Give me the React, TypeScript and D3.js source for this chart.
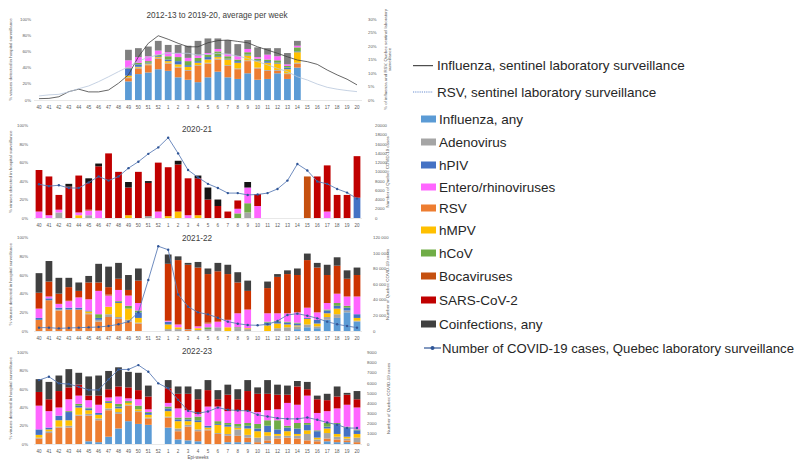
import React from "react";
import * as d3 from "d3";

// ---------- categories & ticks ----------
const weeks = ["40","41","42","43","44","45","46","47","48","49","50","51","52","1","2","3","4","5","6","7","8","9","10","11","12","13","14","15","16","17","18","19","20"];
const stackKeys = ["flu","rsv","adeno","hmpv","hpiv","hcov","entero","boca","sars","coinf"];
const leftTicks = [0, 20, 40, 60, 80, 100];

// ---------- Panel 1: 2012-13 to 2019-20 average ----------
const p1Flu    = [0,0,0,0,0,0,0,0,0,23,32,34,38, 36,28,25,22,28,35,28,26,33,25, 26,33,26,40,0,0,0,0,0,0];
const p1Rsv    = [0,0,0,0,0,0,0,0,0,4,7,9,13, 9,12,11,20,17,15,14,12,15,14, 10,3,6,5,0,0,0,0,0,0];
const p1Adeno  = [0,0,0,0,0,0,0,0,0,1,1,1,1, 1,1,1,1,1,1,1,1,1,1, 1,1,1,1,0,0,0,0,0,0];
const p1Hmpv   = [0,0,0,0,0,0,0,0,0,2,1,1,1, 2,3,4,3,4,2,7,7,6,8, 9,8,5,13,0,0,0,0,0,0];
const p1Hpiv   = [0,0,0,0,0,0,0,0,0,9,3,1,1, 2,4,2,2,3,1,1,2,1,1, 2,1,2,1,0,0,0,0,0,0];
const p1Hcov   = [0,0,0,0,0,0,0,0,0,1,2,2,2, 4,5,5,4,3,6,3,2,3,2, 2,3,2,5,0,0,0,0,0,0];
const p1Entero = [0,0,0,0,0,0,0,0,0,9,7,6,5, 5,5,4,3,2,3,3,4,4,2, 6,5,2,2,0,0,0,0,0,0];
const p1Coinf  = [0,0,0,0,0,0,0,0,0,13,11,12,12, 9,10,15,18,18,13,17,15,11,12, 8,10,14,6,0,0,0,0,0,0];
const p1FluSentinel = [0.5,0.6,1.2,3.1,4.0,3.0,3.0,3.7,6.2,9.3,16.0,21.0,23.8, 22.5,21.0,19.7,19.7,21.2,22.0,22.2,21.7,21.2,19.7, 18.5,17.3,16.0,14.8,14.2,13.2,11.1,9.3,7.7,5.6];
const p1RsvSentinel = [1.5,1.9,2.1,3.0,4.2,5.2,6.8,8.6,10.5,12.3,14.4,15.8,16.7, 17.3,17.3,17.3,16.7,16.9,17.3,16.9,16.3,15.4,14.2, 13.0,11.7,10.5,8.6,7.4,5.9,4.7,4.0,3.5,3.1];
const p1RightTicks = [0, 5, 10, 15, 20, 25, 30];

// ---------- Panel 2: 2020-21 ----------
const p2Adeno  = [0,0,6,0,0,3,0,0,0,0,0,2,0, 0,0,0,0,0,0,0,0,6,0, 0,0,0,0,0,0,0,0,0,0];
const p2Hmpv   = [0,0,0,0,3,0,0,0,0,3,0,0,0, 2,7,0,3,0,0,0,0,0,0, 0,0,0,0,0,0,0,0,0,0];
const p2Hpiv   = [0,0,0,0,0,0,0,0,0,0,0,0,0, 0,0,0,0,0,0,0,0,0,0, 0,0,0,0,0,0,0,0,0,22];
const p2Hcov   = [0,0,0,0,0,0,0,0,0,0,0,0,0, 0,0,0,0,0,0,0,5,10,0, 0,0,0,0,0,0,0,0,0,0];
const p2Entero = [7,3,3,0,3,5,8,0,0,0,0,0,7, 0,0,3,0,0,0,0,5,17,13, 0,0,0,0,0,0,7,0,0,0];
const p2Boca   = [0,0,0,0,0,1,0,0,0,0,0,0,0, 0,0,0,0,0,0,0,0,0,0, 0,0,0,0,45,0,0,0,0,0];
const p2Sars   = [45,42,16,34,40,29,48,70,50,30,50,36,53, 53,51,40,40,20,13,7,9,0,13, 0,0,0,0,0,45,50,25,25,45];
const p2Coinf  = [0,0,0,3,0,5,3,0,0,6,0,2,0, 0,4,0,3,13,7,0,0,6,0, 0,0,0,0,0,0,0,0,0,0];
const p2Covid  = [7300,6900,7100,6500,6500,7700,9000,8100,9000,10800,12200,13900,15300, 17400,14000,10400,8800,7400,6500,5400,5400,5000,5100, 5400,6300,8100,11700,10300,7900,7400,6300,5500,4200];
const p2RightTicks = [0,2000,4000,6000,8000,10000,12000,14000,16000,18000,20000];

// ---------- Panel 3: 2021-22 ----------
const p3Flu    = [0,0,0,0,0,0,0,0,0,0,0,0,0, 0,0,0,0,0,0,0,0,0,0, 0,0,0,2,4,3,12,14,20,10];
const p3Rsv    = [12,33,22,23,23,18,10,15,13,10,8,0,0, 0,0,1,0,0,0,0,0,0,0, 0,0,0,0,0,0,0,0,0,0];
const p3Adeno  = [0,0,1,0,0,1,2,3,2,2,1,0,0, 2,2,1,1,2,4,0,3,2,0, 0,3,4,3,3,2,3,4,2,1];
const p3Hmpv   = [0,0,0,0,0,2,0,8,15,12,5,0,0, 5,2,0,2,0,0,4,0,1,0, 6,5,3,1,6,3,4,6,0,3];
const p3Hpiv   = [2,2,2,2,2,1,2,0,1,0,6,0,0, 3,0,0,0,0,0,0,0,0,0, 3,2,2,2,1,4,3,3,3,4];
const p3Hcov   = [0,0,0,0,0,0,4,0,1,3,2,0,0, 0,0,0,0,2,0,0,1,0,0, 1,1,1,1,0,0,1,3,2,0];
const p3Entero = [10,2,4,7,11,12,25,12,12,11,8,0,0, 1,3,0,2,4,6,8,15,20,0, 9,8,9,11,11,8,7,10,10,19];
const p3Boca   = [0,0,1,1,0,0,0,1,0,0,0,0,0, 0,0,0,0,1,0,0,0,0,0, 0,0,0,0,0,0,0,0,0,0];
const p3Sars   = [17,16,10,14,7,18,9,8,12,6,24,0,0, 61,69,69,63,52,54,49,33,20,0, 27,39,42,40,51,48,30,30,19,23];
const p3Coinf  = [21,22,17,10,9,7,20,22,17,16,13,0,0, 10,4,2,6,6,9,10,11,11,0, 7,3,4,7,7,5,11,9,9,8];
const p3Covid  = [4300,4300,3400,3900,4300,4700,5100,6400,8600,12000,24000,65600,109000, 104500,47000,31300,24000,21400,17100,12000,9400,7700,7300, 8600,12900,20600,22300,19700,16300,12000,8600,6400,4300];
const p3RightTicks = [0,20000,40000,60000,80000,100000,120000];

// ---------- Panel 4: 2022-23 ----------
const p4Flu    = [0,0,0,0,0,3,2,8,17,25,22,21,0, 18,5,4,3,0,0,2,2,2,0, 1,0,0,0,0,0,3,2,2,0];
const p4Rsv    = [6,12,18,18,31,28,24,29,16,17,13,7,0, 11,9,15,11,15,11,7,7,5,2, 3,6,7,6,4,3,3,3,2,2];
const p4Adeno  = [1,2,1,2,1,2,2,2,2,1,1,1,0, 1,3,2,2,1,1,2,7,3,5, 5,3,2,3,7,2,6,3,2,5];
const p4Hmpv   = [3,2,7,6,8,4,4,6,4,2,2,3,0, 6,8,4,8,2,9,8,2,7,7, 4,2,5,2,4,2,5,3,2,4];
const p4Hpiv   = [6,2,5,9,2,2,2,1,2,0,0,2,0, 3,2,2,2,2,1,2,1,3,3, 7,5,4,6,6,7,2,11,10,4];
const p4Hcov   = [0,0,0,1,2,1,0,1,3,2,4,1,0, 2,2,2,4,0,3,2,3,3,5, 6,10,2,6,2,1,4,1,1,1];
const p4Entero = [26,18,9,13,9,8,9,4,8,3,7,3,0, 4,10,8,3,21,16,13,14,13,13, 11,12,25,20,30,19,13,16,24,24];
const p4Sars   = [15,13,18,13,12,5,10,9,11,12,10,14,0, 16,16,18,16,18,8,18,13,22,20, 18,16,9,20,7,15,12,13,11,9];
const p4Coinf  = [14,19,17,20,13,21,22,20,21,17,19,12,0, 9,8,8,11,11,10,11,11,12,7, 15,11,10,6,8,4,7,11,2,9];
const p4Covid  = [6300,6630,5980,5900,5650,5330,5330,6370,7350,7350,7780,7120,5980, 5490,4350,3270,3040,3200,3590,3370,3300,3270,2880, 2710,2550,2480,2480,2610,2390,2120,1900,1570,1570];
const p4RightTicks = [0,1000,2000,3000,4000,5000,6000,7000,8000,9000];

// ---------- legend ----------
const legendLines = ["Influenza, sentinel laboratory surveillance", "RSV, sentinel laboratory surveillance"];
const legendBars = [
  { key: "flu", label: "Influenza, any" },
  { key: "adeno", label: "Adenovirus" },
  { key: "hpiv", label: "hPIV" },
  { key: "entero", label: "Entero/rhinoviruses" },
  { key: "rsv", label: "RSV" },
  { key: "hmpv", label: "hMPV" },
  { key: "hcov", label: "hCoV" },
  { key: "boca", label: "Bocaviruses" },
  { key: "sars", label: "SARS-CoV-2" },
  { key: "coinf", label: "Coinfections, any" },
];
const legendCovid = "Number of COVID-19 cases, Quebec laboratory surveillance";

const baseColors: Record<string, string> = {
  flu: "#5B9BD5", rsv: "#ED7D31", adeno: "#A5A5A5", hmpv: "#FFC000", hpiv: "#4472C4",
  hcov: "#70AD47", entero: "#FF66FF", boca: "#C5500F", sars: "#C00000", coinf: "#404040",
};

const FONT = "'Liberation Sans', Arial, sans-serif";

type SeriesMap = Record<string, number[]>;
interface LineDef { values: number[]; color: string; width: number; markers?: boolean; }
interface PanelCfg {
  title: string; titleX: number; titleY: number;
  yTop: number; yBottom: number;
  leftLabelX: number; rightLabelX: number; rightTitleX: number; rightTitle: string[];
  rightTicks: number[]; rightFmt: (v: number) => string;
  bars: SeriesMap; colorOverride?: Record<string, string>;
  lines: LineDef[]; xTitle?: string;
}

const x = d3.scaleBand<string>().domain(weeks).range([34.03, 361.97]).paddingInner(0.32).paddingOuter(0.16);

function Panel({ cfg }: { cfg: PanelCfg }) {
  const y = d3.scaleLinear().domain([0, 100]).range([cfg.yBottom, cfg.yTop]);
  const rMax = cfg.rightTicks[cfg.rightTicks.length - 1];
  const yR = d3.scaleLinear().domain([0, rMax]).range([cfg.yBottom, cfg.yTop]);
  const rows = weeks.map((w, i) => {
    const r: Record<string, number | string> = { week: w };
    stackKeys.forEach((k) => { r[k] = cfg.bars[k] ? cfg.bars[k][i] : 0; });
    return r;
  });
  const stacked = d3.stack<Record<string, number | string>>().keys(stackKeys)(rows as any);
  const colors = { ...baseColors, ...(cfg.colorOverride || {}) };
  const bw = x.bandwidth();
  const cx = (w: string) => (x(w) as number) + bw / 2;
  const lineGen = d3.line<number>().x((_, i) => cx(weeks[i])).y((v) => yR(v));
  const midY = (cfg.yTop + cfg.yBottom) / 2;
  return (
    <g>
      <text x={cfg.titleX} y={cfg.titleY} textAnchor="middle" fontSize={8.2} fill="#404040" fontFamily={FONT}>{cfg.title}</text>
      <line x1={34} x2={362} y1={cfg.yBottom + 0.5} y2={cfg.yBottom + 0.5} stroke="#D9D9D9" strokeWidth={0.6} />
      {leftTicks.map((t) => (
        <text key={"l" + t} x={cfg.leftLabelX} y={y(t)} dy="0.35em" textAnchor="end" fontSize={4.3} fill="#595959" fontFamily={FONT}>{t}%</text>
      ))}
      {cfg.rightTicks.map((t) => (
        <text key={"r" + t} x={cfg.rightLabelX} y={yR(t)} dy="0.35em" textAnchor="start" fontSize={4.3} fill="#595959" fontFamily={FONT}>{cfg.rightFmt(t)}</text>
      ))}
      {weeks.map((w) => (
        <text key={"w" + w} x={cx(w)} y={cfg.yBottom + 7} dy="0.35em" textAnchor="middle" fontSize={4.5} fill="#595959" fontFamily={FONT}>{w}</text>
      ))}
      <text transform={`translate(12,${midY}) rotate(-90)`} textAnchor="middle" fontSize={4.4} fill="#595959" fontFamily={FONT}>% viruses detected in hospital surveillance</text>
      {cfg.rightTitle.map((t, i) => (
        <text key={"rt" + i} transform={`translate(${cfg.rightTitleX + i * 4.8},${midY}) rotate(-90)`} textAnchor="middle" fontSize={4.4} fill="#595959" fontFamily={FONT}>{t}</text>
      ))}
      {cfg.xTitle && (
        <text x={198} y={cfg.yBottom + 13} dy="0.35em" textAnchor="middle" fontSize={4.6} fill="#595959" fontFamily={FONT}>{cfg.xTitle}</text>
      )}
      {stacked.map((s) => (
        <g key={s.key} fill={colors[s.key]}>
          {s.map((d, i) => {
            const h = y(d[0]) - y(d[1]);
            if (h <= 0) return null;
            return <rect key={i} x={x(weeks[i])} y={y(d[1])} width={bw} height={h} />;
          })}
        </g>
      ))}
      {cfg.lines.map((l, li) => (
        <g key={"ln" + li}>
          <path d={lineGen(l.values) || ""} fill="none" stroke={l.color} strokeWidth={l.width} />
          {l.markers && l.values.map((v, i) => (
            <circle key={i} cx={cx(weeks[i])} cy={yR(v)} r={1.2} fill="#2F5597" />
          ))}
        </g>
      ))}
    </g>
  );
}

const fmtPct = (v: number) => `${v}%`;
const fmtPlain = (v: number) => `${v}`;
const fmtSpace = (v: number) => d3.format(",")(v).replace(/,/g, " ");

const panels: PanelCfg[] = [
  {
    title: "2012-13 to 2019-20, average per week", titleX: 217, titleY: 18,
    yTop: 19, yBottom: 100, leftLabelX: 31, rightLabelX: 368, rightTitleX: 386.5,
    rightTitle: ["% of influenza and RSV, Quebec sentinel laboratory", "surveillance"],
    rightTicks: p1RightTicks, rightFmt: fmtPct,
    bars: { flu: p1Flu, rsv: p1Rsv, adeno: p1Adeno, hmpv: p1Hmpv, hpiv: p1Hpiv, hcov: p1Hcov, entero: p1Entero, coinf: p1Coinf },
    colorOverride: { coinf: "#7F7F7F" },
    lines: [
      { values: p1FluSentinel, color: "#404040", width: 0.8 },
      { values: p1RsvSentinel, color: "#B8C6DC", width: 0.8 },
    ],
  },
  {
    title: "2020-21", titleX: 197, titleY: 132,
    yTop: 125.7, yBottom: 218, leftLabelX: 28, rightLabelX: 375, rightTitleX: 389,
    rightTitle: ["Number of Quebec COVID-19 cases"],
    rightTicks: p2RightTicks, rightFmt: fmtPlain,
    bars: { adeno: p2Adeno, hmpv: p2Hmpv, hpiv: p2Hpiv, hcov: p2Hcov, entero: p2Entero, boca: p2Boca, sars: p2Sars, coinf: p2Coinf },
    colorOverride: { coinf: "#151515" },
    lines: [{ values: p2Covid, color: "#5F7FB8", width: 0.9, markers: true }],
  },
  {
    title: "2021-22", titleX: 197, titleY: 241,
    yTop: 237.7, yBottom: 331, leftLabelX: 28, rightLabelX: 373, rightTitleX: 389,
    rightTitle: ["Number of Quebec COVID-19 cases"],
    rightTicks: p3RightTicks, rightFmt: fmtSpace,
    bars: { flu: p3Flu, rsv: p3Rsv, adeno: p3Adeno, hmpv: p3Hmpv, hpiv: p3Hpiv, hcov: p3Hcov, entero: p3Entero, boca: p3Boca, sars: p3Sars, coinf: p3Coinf },
    colorOverride: { sars: "#CC3300" },
    lines: [{ values: p3Covid, color: "#5F7FB8", width: 0.9, markers: true }],
  },
  {
    title: "2022-23", titleX: 197, titleY: 354,
    yTop: 352.7, yBottom: 444, leftLabelX: 28, rightLabelX: 367, rightTitleX: 390,
    rightTitle: ["Number of Quebec COVID-19 cases"],
    rightTicks: p4RightTicks, rightFmt: fmtPlain,
    bars: { flu: p4Flu, rsv: p4Rsv, adeno: p4Adeno, hmpv: p4Hmpv, hpiv: p4Hpiv, hcov: p4Hcov, entero: p4Entero, sars: p4Sars, coinf: p4Coinf },
    lines: [{ values: p4Covid, color: "#5F7FB8", width: 0.9, markers: true }],
    xTitle: "Epi-weeks",
  },
];

function Legend() {
  const fs = 13.5;
  const rowY = [119, 142, 165, 187, 208, 230, 253, 276, 300, 324];
  return (
    <g fontFamily={FONT} fontSize={fs} fill="#262626">
      <line x1={413} x2={433} y1={65.7} y2={65.7} stroke="#262626" strokeWidth={1} />
      <text x={437} y={65.7} dy="0.35em">{legendLines[0]}</text>
      <line x1={413} x2={433} y1={92} y2={92} stroke="#4472C4" strokeWidth={0.8} strokeDasharray="1.2,1" />
      <text x={437} y={92} dy="0.35em">{legendLines[1]}</text>
      {legendBars.map((b, i) => (
        <g key={b.key}>
          <rect x={421} y={rowY[i] - 3.5} width={15} height={7} fill={baseColors[b.key]} />
          <text x={439} y={rowY[i]} dy="0.35em">{b.label}</text>
        </g>
      ))}
      <line x1={424} x2={441} y1={348} y2={348} stroke="#2F5597" strokeWidth={1.2} />
      <circle cx={432.5} cy={348} r={2} fill="#2F5597" />
      <text x={442} y={348} dy="0.35em" fontSize={13} textLength={352} lengthAdjust="spacingAndGlyphs">{legendCovid}</text>
    </g>
  );
}

export default function App() {
  return (
    <svg width={800} height={465} viewBox="0 0 800 465" style={{ position: "absolute", left: 0, top: 0, background: "#fff" }}>
      <rect width={800} height={465} fill="#fff" />
      {panels.map((p, i) => <Panel key={i} cfg={p} />)}
      <Legend />
    </svg>
  );
}
